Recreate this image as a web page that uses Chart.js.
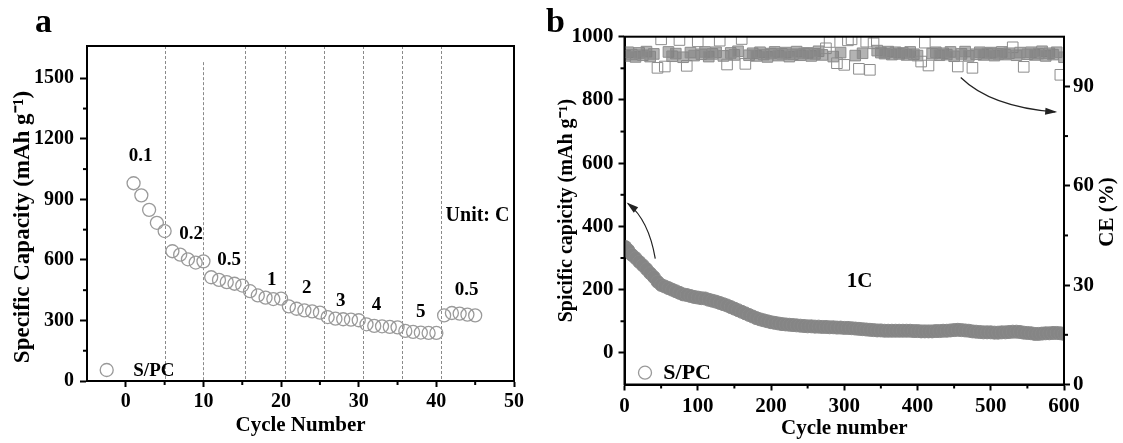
<!DOCTYPE html>
<html><head><meta charset="utf-8">
<script src="https://cdn.jsdelivr.net/npm/chart.js@4.4.1/dist/chart.umd.min.js"></script>
<style>
html,body{margin:0;padding:0;background:#fff;width:1123px;height:443px;overflow:hidden}
#wa{position:absolute;left:0;top:0;width:540px;height:443px}
#wb{position:absolute;left:540px;top:0;width:583px;height:443px}
</style></head><body>
<div id="wa"><canvas id="ca"></canvas></div>
<div id="wb"><canvas id="cb"></canvas></div>
<script>
// ---------- Panel a: rate performance ----------
const rateCycles = [1,2,3,4,5,6,7,8,9,10,11,12,13,14,15,16,17,18,19,20,21,22,23,24,25,26,27,28,29,30,31,32,33,34,35,36,37,38,39,40,41,42,43,44,45];
const rateCapacity = [980,920,848,784,743,643,626,603,587,593,514,501,490,482,473,445,424,413,406,408,370,358,350,345,339,317,309,306,304,301,281,273,271,268,266,248,243,240,238,238,325,337,334,329,325];
const rateLabels = ['0.1','0.2','0.5','1','2','3','4','5','0.5'];
const rateLabelX = [1.9,8.4,13.3,18.8,23.3,27.7,32.3,38.0,43.9];
const rateLabelY = [1114,728,597,498,462,394,375,339,449];
const rateDividers = [5,10,15.4,20.5,25.5,30.6,35.6,40.6];
const rateXTicks = [0,10,20,30,40,50];
const rateXMinor = [5,15,25,35,45];
const rateYTicks = [0,300,600,900,1200,1500];
const rateYMinor = [150,450,750,1050,1350];

// ---------- Panel b: long cycling at 1C ----------
const longCycles = [1,5,10,15,20,25,30,35,40,45,50,55,60,65,70,75,80,85,90,95,
  100,105,110,115,120,125,130,135,140,145,150,155,160,165,170,175,180,185,190,195,
  200,205,210,215,220,225,230,235,240,245,250,255,260,265,270,275,280,285,290,295,
  300,305,310,315,320,325,330,335,340,345,350,355,360,365,370,375,380,385,390,395,
  400,405,410,415,420,425,430,435,440,445,450,455,460,465,470,475,480,485,490,495,
  500,505,510,515,520,525,530,535,540,545,550,555,560,565,570,575,580,585,590,595,600];
const longCapacity = [335,325,310,300,288,277,265,252,240,225,215,210,205,200,195,190,185,183,180,177,
  175,173,172,168,165,162,158,154,150,145,140,135,130,125,120,115,110,106,103,100,
  97,95,93,91,90,89,88,87,86,85,84,84,83,83,82,82,81,81,80,80,
  79,79,78,77,76,75,74,73,72,71,71,70,70,70,70,70,70,70,70,69,
  69,68,68,68,68,69,69,70,70,71,72,73,72,71,70,68,67,66,65,65,
  65,64,64,65,65,66,67,67,66,64,63,62,60,60,61,62,62,63,63,62,60];
const longCE = [99.2,100.3,99.6,98.9,100.1,99.4,100.5,99.0,99.8,95.6,104.2,96.0,100.4,99.1,99.9,104.0,98.8,96.2,100.2,99.3,
  103.6,99.7,100.4,99.0,99.8,100.3,103.8,99.2,96.6,100.1,99.5,100.6,104.3,96.8,99.4,100.0,99.2,100.3,99.6,98.9,
  99.9,100.4,99.3,99.8,100.2,99.0,99.7,100.5,99.4,99.9,100.1,99.2,99.8,100.6,99.5,101.5,103.4,99.0,97.0,100.2,
  96.5,103.9,104.2,99.3,95.3,100.0,103.5,95.0,103.0,100.8,100.2,99.9,100.5,99.6,100.3,99.8,100.1,99.5,100.4,99.7,
  99.3,97.5,103.2,96.3,99.9,100.3,99.4,100.0,99.6,100.4,99.1,96.0,99.8,100.5,99.2,95.6,99.7,100.3,99.5,99.9,
  100.2,99.3,99.8,100.4,99.6,100.0,101.8,99.4,100.2,95.9,99.7,100.3,99.5,99.9,100.6,99.2,100.0,99.6,100.3,93.5,98.8];
const longXTicks = [0,100,200,300,400,500,600];
const longXMinor = [50,150,250,350,450,550];
const longYTicks = [0,200,400,600,800,1000];
const longYMinor = [100,300,500,700,900];
const ceTicks = [0,30,60,90];
const ceMinor = [15,45,75];

const FONT = '"Liberation Serif","Times New Roman",serif';
Chart.defaults.font.family = FONT;
Chart.defaults.font.size = 20;
Chart.defaults.font.weight = 'bold';
Chart.defaults.color = '#000';

function setTicks(arr){ return s => { s.ticks = arr.map(v => ({value: v})); }; }
const plain = v => String(v);
const gridOpts = {drawOnChartArea:false, drawTicks:true, tickLength:6, tickWidth:2, tickColor:'#000'};
const borderOpts = {display:true, color:'#000', width:2};

function drawMinor(ctx, chart, axisId, vals, side){
  const s = chart.scales[axisId], a = chart.chartArea;
  ctx.save(); ctx.strokeStyle = '#000'; ctx.lineWidth = 2;
  vals.forEach(v => {
    const p = s.getPixelForValue(v);
    ctx.beginPath();
    if (side === 'bottom'){ ctx.moveTo(p, a.bottom); ctx.lineTo(p, a.bottom + 4); }
    else if (side === 'left'){ ctx.moveTo(a.left, p); ctx.lineTo(a.left - 4, p); }
    else { ctx.moveTo(a.right, p); ctx.lineTo(a.right + 4, p); }
    ctx.stroke();
  });
  ctx.restore();
}
function drawFrame(ctx, a){
  ctx.save(); ctx.strokeStyle = '#000'; ctx.lineWidth = 2;
  ctx.strokeRect(a.left, a.top, a.right - a.left, a.bottom - a.top);
  ctx.restore();
}
function legendItem(ctx, cx, cy, tx, size){
  ctx.save();
  ctx.beginPath(); ctx.arc(cx, cy, 6.5, 0, Math.PI*2);
  ctx.strokeStyle = '#999'; ctx.lineWidth = 1.3; ctx.stroke();
  ctx.fillStyle = '#000'; ctx.font = 'bold ' + size + 'px ' + FONT;
  ctx.textAlign = 'left'; ctx.textBaseline = 'middle';
  ctx.fillText('S/PC', tx, cy + 1);
  ctx.restore();
}
function rotatedText(ctx, text, x, y, size){
  ctx.save(); ctx.translate(x, y); ctx.rotate(-Math.PI / 2);
  ctx.fillStyle = '#000'; ctx.font = 'bold ' + size + 'px ' + FONT;
  ctx.textAlign = 'center'; ctx.textBaseline = 'middle';
  ctx.fillText(text, 0, 0);
  ctx.restore();
}

const pluginA = {
  id: 'pa',
  beforeDatasetsDraw(chart){
    const ctx = chart.ctx, a = chart.chartArea, sx = chart.scales.x, sy = chart.scales.y;
    ctx.save(); ctx.strokeStyle = '#8a8a8a'; ctx.lineWidth = 1; ctx.setLineDash([3,2]);
    rateDividers.forEach(v => {
      const px = Math.round(sx.getPixelForValue(v)) + 0.5;
      const top = v === 10 ? sy.getPixelForValue(1580) : a.top;
      ctx.beginPath(); ctx.moveTo(px, top); ctx.lineTo(px, a.bottom); ctx.stroke();
    });
    ctx.restore();
  },
  afterDraw(chart){
    const ctx = chart.ctx, a = chart.chartArea, sx = chart.scales.x, sy = chart.scales.y;
    drawFrame(ctx, a);
    drawMinor(ctx, chart, 'x', rateXMinor, 'bottom');
    drawMinor(ctx, chart, 'y', rateYMinor, 'left');
    ctx.save(); ctx.fillStyle = '#000'; ctx.font = 'bold 19px ' + FONT;
    ctx.textAlign = 'center'; ctx.textBaseline = 'middle';
    rateLabels.forEach((t, i) => ctx.fillText(t, sx.getPixelForValue(rateLabelX[i]), sy.getPixelForValue(rateLabelY[i])));
    ctx.font = 'bold 20px ' + FONT;
    ctx.fillText('Unit: C', sx.getPixelForValue(45.3), sy.getPixelForValue(818));
    ctx.font = 'bold 34px ' + FONT; ctx.textAlign = 'left'; ctx.textBaseline = 'alphabetic';
    ctx.fillText('a', 35, 32);
    ctx.restore();
    rotatedText(ctx, 'Specific Capacity (mAh g\u207B\u00B9)', 23, 227, 23);
    legendItem(ctx, 106.7, 370, 133.3, 19);
  }
};

new Chart(document.getElementById('ca'), {
  type: 'scatter',
  data: { datasets: [{
    label: 'S/PC',
    data: rateCycles.map((c, i) => ({x: c, y: rateCapacity[i]})),
    showLine: false, pointStyle: 'circle', pointRadius: 6.5,
    pointBorderColor: '#9a9a9a', pointBorderWidth: 1.3, pointBackgroundColor: 'rgba(255,255,255,0)'
  }]},
  options: {
    responsive: true, maintainAspectRatio: false, animation: false,
    layout: { padding: {top: 46, right: 26, left: 0, bottom: 0} },
    plugins: { legend: {display: false}, tooltip: {enabled: false} },
    scales: {
      x: { type: 'linear', min: -5, max: 50,
        afterBuildTicks: setTicks(rateXTicks), afterFit: s => { s.height = 62; },
        grid: gridOpts, border: borderOpts,
        ticks: {padding: 3, color: '#000', maxRotation: 0, callback: plain},
        title: {display: true, text: 'Cycle Number', font: {size: 21, weight: 'bold'}, padding: {top: 0, bottom: 5}} },
      y: { type: 'linear', min: 0, max: 1660,
        afterBuildTicks: setTicks(rateYTicks), afterFit: s => { s.width = 87; },
        grid: Object.assign({}, gridOpts, {tickLength: 7}), border: borderOpts,
        ticks: {padding: 6, color: '#000', callback: plain},
        title: {display: false, text: 'Specific Capacity (mAh g\u207B\u00B9)'} }
    }
  },
  plugins: [pluginA]
});

function arrow(ctx, x0, y0, cx, cy, x1, y1){
  ctx.save(); ctx.strokeStyle = '#222'; ctx.fillStyle = '#222'; ctx.lineWidth = 1.2;
  ctx.beginPath(); ctx.moveTo(x0, y0); ctx.quadraticCurveTo(cx, cy, x1, y1); ctx.stroke();
  const ang = Math.atan2(y1 - cy, x1 - cx), L = 10, W = 3.5;
  ctx.beginPath();
  ctx.moveTo(x1 + Math.cos(ang) * 2, y1 + Math.sin(ang) * 2);
  ctx.lineTo(x1 - Math.cos(ang) * L - Math.sin(ang) * W, y1 - Math.sin(ang) * L + Math.cos(ang) * W);
  ctx.lineTo(x1 - Math.cos(ang) * L + Math.sin(ang) * W, y1 - Math.sin(ang) * L - Math.cos(ang) * W);
  ctx.closePath(); ctx.fill();
  ctx.restore();
}

const pluginB = {
  id: 'pb',
  afterDraw(chart){
    const ctx = chart.ctx, a = chart.chartArea, sx = chart.scales.x, sy = chart.scales.y;
    drawFrame(ctx, a);
    drawMinor(ctx, chart, 'x', longXMinor, 'bottom');
    drawMinor(ctx, chart, 'y', longYMinor, 'left');
    drawMinor(ctx, chart, 'y2', ceMinor, 'right');
    const P = (c, v) => [sx.getPixelForValue(c), sy.getPixelForValue(v)];
    const s1 = P(42, 298), c1 = P(33, 420), e1 = P(5, 472);
    arrow(ctx, s1[0], s1[1], c1[0], c1[1], e1[0], e1[1]);
    const s2 = P(459, 871), c2 = P(500, 778), e2 = P(588, 762);
    arrow(ctx, s2[0], s2[1], c2[0], c2[1], e2[0], e2[1]);
    ctx.save(); ctx.fillStyle = '#000'; ctx.font = 'bold 21px ' + FONT;
    ctx.textAlign = 'center'; ctx.textBaseline = 'middle';
    const p1 = P(321, 224); ctx.fillText('1C', p1[0], p1[1]);
    ctx.font = 'bold 34px ' + FONT; ctx.textAlign = 'left'; ctx.textBaseline = 'alphabetic';
    ctx.fillText('b', 6, 32);
    ctx.restore();
    rotatedText(ctx, 'CE (%)', 568, 212, 21);
    legendItem(ctx, 105, 372.7, 123.3, 22);
  }
};

new Chart(document.getElementById('cb'), {
  type: 'scatter',
  data: { datasets: [
    { label: 'CE', yAxisID: 'y2',
      data: longCycles.map((c, i) => ({x: c, y: longCE[i]})),
      showLine: false, pointStyle: 'rect', pointRadius: 7.5,
      pointBorderColor: '#8c8c8c', pointBorderWidth: 1,
      pointBackgroundColor: ctx => {
        const v = ctx.raw ? ctx.raw.y : 100;
        return (v > 98.5 && v < 101) ? 'rgba(128,128,128,0.6)' : 'rgba(255,255,255,0)';
      } },
    { label: 'S/PC', yAxisID: 'y',
      data: longCycles.map((c, i) => ({x: c, y: longCapacity[i]})),
      showLine: false, pointStyle: 'circle', pointRadius: 6.5,
      pointBorderColor: '#8a8a8a', pointBorderWidth: 1, pointBackgroundColor: '#858585' }
  ]},
  options: {
    responsive: true, maintainAspectRatio: false, animation: false,
    layout: { padding: {top: 36.7, right: 0, left: 0, bottom: 0} },
    plugins: { legend: {display: false}, tooltip: {enabled: false} },
    scales: {
      x: { type: 'linear', min: 0, max: 600,
        afterBuildTicks: setTicks(longXTicks), afterFit: s => { s.height = 58.5; },
        grid: gridOpts, border: borderOpts,
        ticks: {padding: 3, color: '#000', maxRotation: 0, callback: plain, font: {size: 21}},
        title: {display: true, text: 'Cycle number', font: {size: 21, weight: 'bold'}, padding: {top: 0, bottom: 2}} },
      y: { type: 'linear', position: 'left', min: -100, max: 1000,
        afterBuildTicks: setTicks(longYTicks), afterFit: s => { s.width = 84.5; },
        grid: gridOpts, border: borderOpts,
        ticks: {padding: 5, color: '#000', callback: plain, font: {size: 21}},
        title: {display: true, text: 'Spicific capicity (mAh g\u207B\u00B9)', font: {size: 20, weight: 'bold'}, padding: {top: 15, bottom: 0}} },
      y2: { type: 'linear', position: 'right', min: 0, max: 105,
        afterBuildTicks: setTicks(ceTicks), afterFit: s => { s.width = 59; },
        grid: gridOpts, border: borderOpts,
        ticks: {padding: 3, color: '#000', callback: plain, font: {size: 21}},
        title: {display: false, text: 'CE (%)'} }
    }
  },
  plugins: [pluginB]
});
</script>
</body></html>
